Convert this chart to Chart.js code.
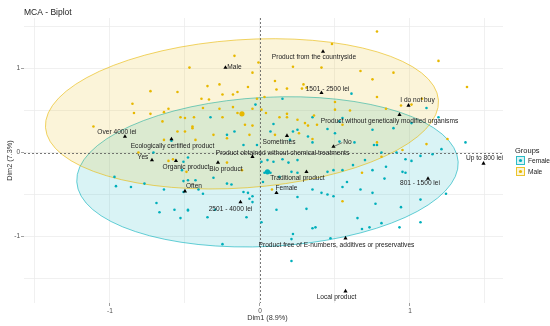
<!DOCTYPE html>
<html>
<head>
<meta charset="utf-8">
<script src="https://cdn.jsdelivr.net/npm/chart.js@4.4.1/dist/chart.umd.min.js"></script>
<style>
  html, body { margin: 0; padding: 0; background: #fff; }
  #wrap { width: 550px; height: 326px; position: relative; }
</style>
</head>
<body>
<div id="wrap"><canvas id="biplot"></canvas></div>
<script>
// Individuals (Dim1, Dim2)
const femalePoints = [
  [0.15,0.64],[-0.03,0.57],[-0.33,0.42],[0.35,0.42],[0.55,0.41],[0.61,0.70],[1.11,0.53],[1.19,0.42],
  [-0.59,0.14],[-0.71,0.00],[-0.51,-0.11],[-0.48,-0.06],[-0.52,-0.21],[-0.97,-0.29],[-0.96,-0.40],[-0.86,-0.41],
  [-0.77,-0.37],[-0.64,-0.44],[-0.51,-0.34],[-0.43,-0.33],[-0.41,-0.44],[-0.69,-0.60],[-0.67,-0.71],[-0.57,-0.68],
  [-0.48,-0.69],[-0.53,-0.78],[-0.22,0.21],[-0.17,0.25],[-0.11,0.09],[-0.02,0.09],[0.09,0.34],[0.07,0.25],
  [0.22,0.25],[0.25,0.27],[0.20,0.15],[0.32,0.19],[0.45,0.28],[0.50,0.23],[0.35,0.12],[0.53,0.37],
  [0.53,0.13],[0.63,0.12],[0.75,0.27],[0.78,0.09],[0.01,-0.11],[0.05,-0.09],[0.09,-0.11],[0.15,-0.08],
  [0.19,-0.12],[0.25,-0.09],[0.07,-0.24],[0.03,-0.24],[0.02,-0.35],[0.13,-0.29],[0.21,-0.23],[0.25,-0.24],
  [0.45,-0.23],[0.49,-0.21],[0.55,-0.21],[0.62,-0.15],[0.70,-0.09],[0.75,-0.21],[-0.11,-0.47],[-0.08,-0.48],
  [-0.05,-0.52],[-0.07,-0.55],[-0.05,-0.59],[-0.22,-0.37],[-0.19,-0.38],[-0.31,-0.30],[-0.48,-0.33],[-0.51,-0.47],
  [-0.38,-0.49],[0.11,-0.68],[0.25,-0.53],[0.31,-0.67],[0.35,-0.44],[0.41,-0.48],[0.45,-0.50],[0.49,-0.52],
  [0.55,-0.41],[0.58,-0.35],[0.67,-0.44],[0.75,-0.48],[-0.30,-0.68],[-0.48,-0.68],[-0.35,-0.77],[-0.09,-0.77],
  [0.65,-0.78],[0.37,-0.89],[0.73,-0.89],[0.89,0.29],[0.76,0.09],[1.01,0.35],[1.37,0.12],[1.21,0.04],
  [0.81,0.00],[0.91,0.00],[1.07,-0.04],[1.15,-0.02],[0.97,-0.08],[1.01,-0.10],[0.84,-0.17],[0.95,-0.23],
  [0.97,-0.24],[0.83,-0.31],[1.24,-0.49],[1.07,-0.56],[0.77,-0.61],[0.94,-0.65],[1.07,-0.83],[0.81,-0.84],
  [0.93,-0.89],[0.01,-0.83],[0.22,-0.97],[0.21,-1.03],[0.35,-0.90],[0.47,-1.02],[0.68,-0.91],[-0.25,-1.09],
  [0.21,-1.29]
];

const malePoints = [
  [-0.47,1.01],[-0.73,0.73],[-0.55,0.72],[-0.85,0.58],[-0.84,0.47],[-0.73,0.46],[-0.64,0.48],[-0.61,0.52],
  [-0.53,0.42],[-0.50,0.41],[-0.44,0.42],[0.48,1.29],[-0.17,1.15],[-0.05,0.95],[-0.01,1.07],[0.22,1.02],
  [0.41,1.01],[0.67,0.97],[0.75,0.87],[0.10,0.85],[0.29,0.81],[-0.08,0.78],[-0.27,0.81],[-0.35,0.79],
  [0.11,0.75],[0.18,0.76],[0.28,0.76],[0.31,0.77],[0.03,0.66],[-0.25,0.69],[-0.18,0.69],[-0.15,0.72],
  [-0.39,0.64],[-0.34,0.63],[-0.02,0.64],[0.50,0.60],[0.78,0.66],[-0.38,0.53],[-0.27,0.52],[-0.18,0.54],
  [-0.05,0.52],[0.01,0.51],[-0.15,0.47],[0.18,0.42],[0.60,0.50],[0.50,0.51],[-0.25,0.42],[0.78,1.44],
  [1.19,1.09],[0.89,0.95],[1.38,0.78],[1.08,0.64],[1.01,0.57],[0.94,0.56],[0.84,0.52],[-1.11,0.31],
  [-0.65,0.37],[-0.45,0.31],[-0.55,0.25],[-0.50,0.25],[-0.64,0.15],[-0.43,0.15],[-0.81,0.00],[-0.61,-0.10],
  [-0.58,-0.08],[-0.45,0.29],[-0.31,0.21],[-0.10,0.33],[-0.05,0.32],[-0.07,0.21],[0.10,0.21],[0.13,0.42],
  [0.18,0.46],[0.25,0.39],[0.30,0.35],[0.32,0.32],[0.36,0.44],[0.38,0.33],[0.26,0.23],[0.35,0.16],
  [0.55,0.33],[0.04,0.47],[-0.22,-0.12],[-0.22,0.17],[0.08,-0.44],[0.55,-0.58],[0.68,-0.24],[-0.49,-0.23],
  [-0.12,-0.21],[0.78,0.12],[1.11,0.10],[1.25,0.16],[0.95,0.03],[0.81,-0.05]
];

// group means (big dots) and their concentration ellipses
const groupNames = ['Female', 'Male'];
const groupColors = ['#00AFBB', '#E7B800'];
const groupMeanX = [0.05, -0.12];
const groupMeanY = [-0.23, 0.46];
const ellipseRadiusX = [1.273, 1.313];
const ellipseRadiusY = [0.887, 0.881];
const ellipseTilt = [3, 4]; // degrees

// variable categories
const categoryNames = [
  'Product from the countryside', 'Male', '1501 - 2500 lei', 'I do not buy',
  'Product without genetically modified organisms', 'Over 4000 lei', 'Ecologically certified product',
  'Yes', 'Organic product', 'Often', 'Sometimes', 'No', 'Product obtained without chemical treatments',
  'Bio product', 'Traditional product', 'Female', '2501 - 4000 lei', 'Up to 800 lei', '801 - 1500 lei',
  'Product free of E-numbers, additives or preservatives', 'Local product'
];
const categoryX = [0.42, -0.23, 0.41, 0.99, 0.93, -0.90, -0.59, -0.72, -0.56, -0.50, 0.18, 0.49, -0.05,
  -0.28, 0.31, 0.11, -0.13, 1.49, 1.12, 0.57, 0.57];
const categoryY = [1.20, 1.01, 0.71, 0.56, 0.45, 0.19, 0.16, -0.09, -0.10, -0.46, 0.20, 0.07, -0.05,
  -0.12, -0.23, -0.48, -0.59, -0.13, -0.31, -1.02, -1.65];

// repel-style label nudges in px (label centre relative to its point)
const labelShift = [[-9,6],[9,0],[6,-4],[9,-5],[-10,6],[-8,-4],[1,7],[-9,-3],[10,6],[9,-5],[-8,6],[14,-4],
  [30,-4],[8,7],[-9,6],[10,-5],[-10,7],[1,-5],[-8,5],[-9,7],[-9,6]];
const segmentLabels = ['No'];

const axisTitles = ['Dim1 (8.9%)', 'Dim2 (7.3%)'];
const FONT = '"Liberation Sans", Arial, sans-serif';

const withAlpha = (hex, a) => {
  const n = parseInt(hex.slice(1), 16);
  return `rgba(${n >> 16},${(n >> 8) & 255},${n & 255},${a})`;
};

const biplotExtras = {
  id: 'biplotExtras',
  beforeDatasetsDraw(chart) {
    const { ctx, chartArea: a, scales: { x, y } } = chart;
    ctx.save();
    // ellipses (Female first, Male on top)
    groupNames.forEach((g, i) => {
      const cx = x.getPixelForValue(groupMeanX[i]);
      const cy = y.getPixelForValue(groupMeanY[i]);
      const rx = Math.abs(x.getPixelForValue(ellipseRadiusX[i]) - x.getPixelForValue(0));
      const ry = Math.abs(y.getPixelForValue(ellipseRadiusY[i]) - y.getPixelForValue(0));
      ctx.beginPath();
      ctx.ellipse(cx, cy, rx, ry, -ellipseTilt[i] * Math.PI / 180, 0, Math.PI * 2);
      ctx.fillStyle = withAlpha(groupColors[i], 0.15);
      ctx.fill();
      ctx.strokeStyle = withAlpha(groupColors[i], 0.6);
      ctx.lineWidth = 1;
      ctx.stroke();
    });
    // zero reference lines
    ctx.setLineDash([2, 2]);
    ctx.strokeStyle = '#555';
    ctx.lineWidth = 0.8;
    const x0 = Math.round(x.getPixelForValue(0)) + 0.5;
    const y0 = Math.round(y.getPixelForValue(0)) + 0.5;
    ctx.beginPath();
    ctx.moveTo(x0, a.top); ctx.lineTo(x0, a.bottom);
    ctx.moveTo(a.left, y0); ctx.lineTo(a.right, y0);
    ctx.stroke();
    ctx.restore();
  },
  afterDatasetsDraw(chart) {
    const { ctx, scales: { x, y } } = chart;
    ctx.save();
    ctx.font = `6.6px ${FONT}`;
    ctx.textAlign = 'center';
    ctx.textBaseline = 'middle';
    categoryNames.forEach((name, i) => {
      const px = x.getPixelForValue(categoryX[i]);
      const py = y.getPixelForValue(categoryY[i]);
      const lx = px + labelShift[i][0];
      const ly = py + labelShift[i][1];
      if (segmentLabels.includes(name)) {
        const w = ctx.measureText(name).width;
        ctx.strokeStyle = '#333';
        ctx.lineWidth = 0.6;
        ctx.beginPath();
        ctx.moveTo(px, py);
        ctx.lineTo(lx - w / 2 - 1, ly);
        ctx.stroke();
      }
      ctx.fillStyle = '#222';
      ctx.fillText(name, lx, ly);
    });
    ctx.restore();
  },
  afterDraw(chart) {
    const { ctx, chartArea: a } = chart;
    ctx.save();
    ctx.fillStyle = '#222';
    ctx.font = `8.5px ${FONT}`;
    ctx.textBaseline = 'alphabetic';
    ctx.fillText('MCA - Biplot', 24, 15);

    ctx.fillStyle = '#333';
    ctx.font = `7.3px ${FONT}`;
    ctx.textAlign = 'center';
    ctx.textBaseline = 'middle';
    ctx.fillText(axisTitles[0], (a.left + a.right) / 2 + 4, 318);
    ctx.save();
    ctx.translate(10, (a.top + a.bottom) / 2);
    ctx.rotate(-Math.PI / 2);
    ctx.fillText(axisTitles[1], 0, 0);
    ctx.restore();

    // legend
    ctx.textAlign = 'left';
    ctx.font = `7.5px ${FONT}`;
    ctx.fillStyle = '#222';
    ctx.fillText('Groups', 515, 151);
    ctx.font = `6.6px ${FONT}`;
    groupNames.forEach((g, i) => {
      const top = 156 + i * 11;
      ctx.fillStyle = withAlpha(groupColors[i], 0.15);
      ctx.fillRect(516, top, 9, 9);
      ctx.strokeStyle = withAlpha(groupColors[i], 0.8);
      ctx.lineWidth = 1;
      ctx.strokeRect(516.5, top + 0.5, 8, 8);
      ctx.fillStyle = groupColors[i];
      ctx.beginPath();
      ctx.arc(520.5, top + 4.5, 1.6, 0, Math.PI * 2);
      ctx.fill();
      ctx.fillStyle = '#222';
      ctx.fillText(g, 528, top + 5);
    });
    ctx.restore();
  }
};

const isHalf = v => Math.abs(v * 2 - Math.round(v * 2)) < 1e-6;
const isWhole = v => Math.abs(v - Math.round(v)) < 1e-6;

const axisDefaults = (lo, hi) => ({
  type: 'linear',
  min: lo,
  max: hi,
  border: { display: false },
  grid: {
    color: ctx => isHalf(ctx.tick.value) ? '#ececec' : 'transparent',
    lineWidth: 0.8,
    tickLength: 3,
    tickColor: ctx => isWhole(ctx.tick.value) ? '#888' : 'transparent',
    drawOnChartArea: true
  },
  ticks: {
    stepSize: 0.5,
    includeBounds: false,
    padding: 1,
    color: '#4d4d4d',
    font: { family: FONT, size: 6.5 },
    callback: v => isWhole(v) ? Math.round(v) : ''
  }
});

new Chart(document.getElementById('biplot'), {
  type: 'scatter',
  data: {
    datasets: [
      {
        label: 'Categories',
        data: categoryNames.map((n, i) => ({ x: categoryX[i], y: categoryY[i] })),
        pointStyle: 'triangle',
        pointRadius: 2.4,
        backgroundColor: '#000',
        borderColor: '#000',
        borderWidth: 0,
        order: 0
      },
      {
        label: 'Means',
        data: groupNames.map((g, i) => ({ x: groupMeanX[i], y: groupMeanY[i] })),
        pointRadius: 2.6,
        backgroundColor: groupColors,
        borderWidth: 0,
        order: 1
      },
      {
        label: 'Male',
        data: malePoints.map(p => ({ x: p[0], y: p[1] })),
        pointRadius: 1.3,
        backgroundColor: groupColors[1],
        borderWidth: 0,
        order: 2
      },
      {
        label: 'Female',
        data: femalePoints.map(p => ({ x: p[0], y: p[1] })),
        pointRadius: 1.3,
        backgroundColor: groupColors[0],
        borderWidth: 0,
        order: 3
      }
    ]
  },
  options: {
    responsive: true,
    maintainAspectRatio: false,
    animation: false,
    events: [],
    layout: { padding: { left: 0, top: 18, right: 47, bottom: 11 } },
    plugins: {
      legend: { display: false },
      title: { display: false },
      tooltip: { enabled: false }
    },
    scales: {
      x: {
        ...axisDefaults(-1.573, 1.62),
        afterFit: s => { s.height = 12; }
      },
      y: {
        ...axisDefaults(-1.79, 1.60),
        afterFit: s => { s.width = 24; }
      }
    }
  },
  plugins: [biplotExtras]
});
</script>
</body>
</html>
